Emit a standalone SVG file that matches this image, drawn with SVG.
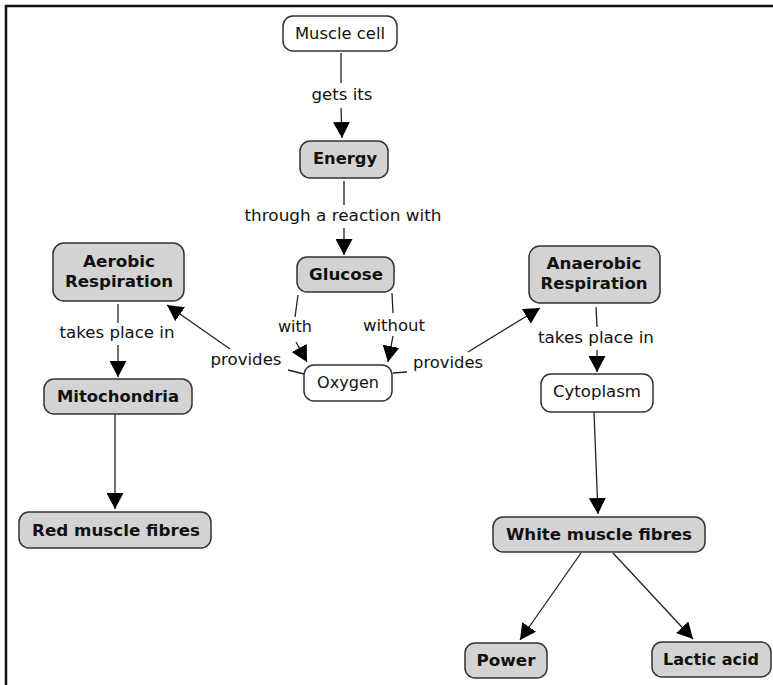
<svg xmlns="http://www.w3.org/2000/svg" width="773" height="685" viewBox="0 0 773 685">
  <defs>
    <marker id="arrow" markerUnits="userSpaceOnUse" markerWidth="17" markerHeight="17" refX="16" refY="8.5" orient="auto">
      <path d="M0,0 L16,8.5 L0,17 z" fill="#000"/>
    </marker>
    <style>
      .frame { stroke: #111; stroke-width: 2.5; fill: none; }
      .box { stroke: #333; stroke-width: 1.5; }
      .concept { fill: #d3d3d3; }
      .plain { fill: #fff; }
      .t { font-family: "DejaVu Sans", Verdana, sans-serif; font-size: 16px; fill: #111; text-anchor: middle; }
      .b { font-weight: bold; }
      .link { stroke: #222; stroke-width: 1.3; fill: none; }
      .arr { marker-end: url(#arrow); }
    </style>
  </defs>

  <rect width="773" height="685" fill="#fff"/>
  <path class="frame" d="M6,685 V6 H773"/>

  <!-- connectors and linking phrases -->
  <g id="connectors">
    <line class="link" x1="341" y1="53" x2="341" y2="83"/>
    <line class="link arr" x1="341" y1="108" x2="342" y2="138"/>
    <line class="link" x1="344" y1="181" x2="344" y2="205"/>
    <line class="link arr" x1="344" y1="228" x2="344" y2="255"/>
    <line class="link" x1="298" y1="295" x2="295" y2="317"/>
    <line class="link arr" x1="296" y1="342" x2="307" y2="362"/>
    <line class="link" x1="392" y1="293" x2="393" y2="313"/>
    <line class="link arr" x1="393" y1="336" x2="388" y2="362"/>
    <line class="link" x1="304" y1="374" x2="288" y2="370"/>
    <line class="link arr" x1="230" y1="349" x2="167" y2="305"/>
    <line class="link" x1="393" y1="373" x2="407" y2="372"/>
    <line class="link arr" x1="468" y1="352" x2="540" y2="308"/>
    <line class="link" x1="118" y1="304" x2="118" y2="323"/>
    <line class="link arr" x1="118" y1="345" x2="118" y2="377"/>
    <line class="link" x1="596" y1="307" x2="597" y2="327"/>
    <line class="link arr" x1="597" y1="350" x2="597" y2="372"/>
    <line class="link arr" x1="115" y1="414" x2="115" y2="509"/>
    <line class="link arr" x1="594" y1="412" x2="598" y2="514"/>
    <line class="link arr" x1="581" y1="553" x2="520" y2="640"/>
    <line class="link arr" x1="613" y1="553" x2="693" y2="639"/>

    <text class="t" x="342" y="100" textLength="61" lengthAdjust="spacingAndGlyphs">gets its</text>
    <text class="t" x="343" y="221" textLength="197" lengthAdjust="spacingAndGlyphs">through a reaction with</text>
    <text class="t" x="295" y="332" textLength="34" lengthAdjust="spacingAndGlyphs">with</text>
    <text class="t" x="394" y="331" textLength="62" lengthAdjust="spacingAndGlyphs">without</text>
    <text class="t" x="246" y="365" textLength="71" lengthAdjust="spacingAndGlyphs">provides</text>
    <text class="t" x="448" y="368" textLength="70" lengthAdjust="spacingAndGlyphs">provides</text>
    <text class="t" x="117" y="338" textLength="115" lengthAdjust="spacingAndGlyphs">takes place in</text>
    <text class="t" x="596" y="343" textLength="116" lengthAdjust="spacingAndGlyphs">takes place in</text>
  </g>

  <!-- concepts -->
  <g id="muscle-cell">
    <rect class="box plain" x="283" y="16" width="114" height="35" rx="10"/>
    <text class="t" x="340" y="39" textLength="90" lengthAdjust="spacingAndGlyphs">Muscle cell</text>
  </g>
  <g id="energy">
    <rect class="box concept" x="300" y="141" width="88" height="37" rx="10"/>
    <text class="t b" x="345" y="164" textLength="64" lengthAdjust="spacingAndGlyphs">Energy</text>
  </g>
  <g id="glucose">
    <rect class="box concept" x="297" y="257" width="97" height="35" rx="10"/>
    <text class="t b" x="346" y="280" textLength="74" lengthAdjust="spacingAndGlyphs">Glucose</text>
  </g>
  <g id="aerobic-respiration">
    <rect class="box concept" x="53" y="243" width="131" height="58" rx="11"/>
    <text class="t b" x="119" y="267" textLength="72" lengthAdjust="spacingAndGlyphs">Aerobic</text>
    <text class="t b" x="119" y="287" textLength="108" lengthAdjust="spacingAndGlyphs">Respiration</text>
  </g>
  <g id="anaerobic-respiration">
    <rect class="box concept" x="529" y="246" width="131" height="57" rx="11"/>
    <text class="t b" x="594" y="269" textLength="95" lengthAdjust="spacingAndGlyphs">Anaerobic</text>
    <text class="t b" x="594" y="289" textLength="107" lengthAdjust="spacingAndGlyphs">Respiration</text>
  </g>
  <g id="oxygen">
    <rect class="box plain" x="304" y="365" width="88" height="36" rx="10"/>
    <text class="t" x="348" y="388" textLength="62" lengthAdjust="spacingAndGlyphs">Oxygen</text>
  </g>
  <g id="mitochondria">
    <rect class="box concept" x="44" y="379" width="148" height="35" rx="10"/>
    <text class="t b" x="118" y="402" textLength="122" lengthAdjust="spacingAndGlyphs">Mitochondria</text>
  </g>
  <g id="cytoplasm">
    <rect class="box plain" x="541" y="374" width="112" height="38" rx="10"/>
    <text class="t" x="597" y="397" textLength="88" lengthAdjust="spacingAndGlyphs">Cytoplasm</text>
  </g>
  <g id="red-muscle-fibres">
    <rect class="box concept" x="19" y="512" width="192" height="36" rx="10"/>
    <text class="t b" x="116" y="536" textLength="168" lengthAdjust="spacingAndGlyphs">Red muscle fibres</text>
  </g>
  <g id="white-muscle-fibres">
    <rect class="box concept" x="493" y="517" width="212" height="35" rx="10"/>
    <text class="t b" x="599" y="540" textLength="186" lengthAdjust="spacingAndGlyphs">White muscle fibres</text>
  </g>
  <g id="power">
    <rect class="box concept" x="465" y="643" width="82" height="35" rx="10"/>
    <text class="t b" x="506" y="666" textLength="59" lengthAdjust="spacingAndGlyphs">Power</text>
  </g>
  <g id="lactic-acid">
    <rect class="box concept" x="652" y="642" width="119" height="35" rx="10"/>
    <text class="t b" x="711" y="665" textLength="96" lengthAdjust="spacingAndGlyphs">Lactic acid</text>
  </g>
</svg>
